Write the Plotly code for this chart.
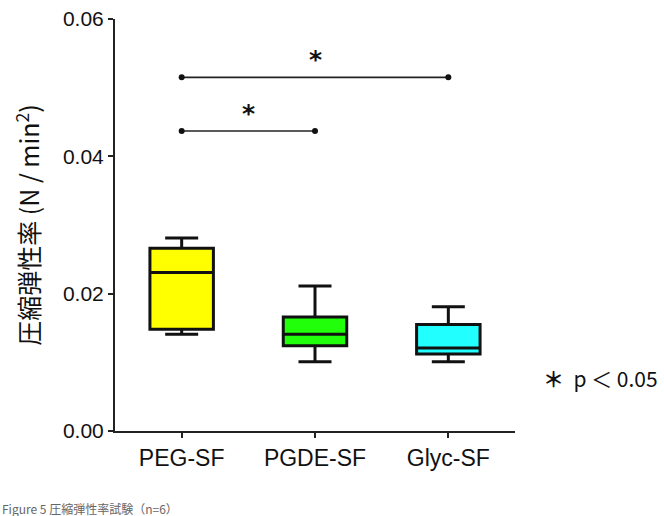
import plotly.graph_objects as go

# ---- data ----
groups = ["PEG-SF", "PGDE-SF", "Glyc-SF"]
lower_whisker = [0.0141, 0.0101, 0.0101]
q1 = [0.0148, 0.0124, 0.0112]
median = [0.0231, 0.0141, 0.0121]
q3 = [0.0266, 0.0166, 0.0155]
upper_whisker = [0.0281, 0.0211, 0.0181]
box_colors = ["#FFFF00", "#22FF0A", "#22FFFF"]

sig_pairs = [(0, 1), (0, 2)]
sig_levels = [0.0437, 0.0515]
sig_labels = ["*", "*"]

y_ticks = [0.0, 0.02, 0.04, 0.06]

fig = go.Figure()
for i, g in enumerate(groups):
    fig.add_trace(go.Box(
        x=[g], q1=[q1[i]], median=[median[i]], q3=[q3[i]],
        lowerfence=[lower_whisker[i]], upperfence=[upper_whisker[i]],
        fillcolor=box_colors[i],
        line=dict(color="#111111", width=3),
        whiskerwidth=0.52,
        boxpoints=False,
        showlegend=False,
        hoverinfo="skip",
    ))

for (a, b), lvl, lab in zip(sig_pairs, sig_levels, sig_labels):
    fig.add_trace(go.Scatter(
        x=[groups[a], groups[b]], y=[lvl, lvl],
        mode="lines+markers",
        line=dict(color="#222222", width=1.6),
        marker=dict(color="#111111", size=6),
        showlegend=False, hoverinfo="skip",
    ))
    fig.add_annotation(
        x=(a + b) / 2, y=lvl, xref="x", yref="y",
        text="<b>" + lab + "</b>", showarrow=False, yanchor="bottom", yshift=1,
        font=dict(family="DejaVu Sans", size=25, color="#111111"),
    )

fig.add_annotation(
    x=1.065, y=0.0077, xref="paper", yref="y", xanchor="left",
    text="<b>＊</b>  p ＜ 0.05", showarrow=False,
    font=dict(family="Noto Sans CJK JP", size=21, color="#111111"),
)

fig.add_annotation(
    x=-115/400, y=-0.163, xref="paper", yref="paper", xanchor="left", yanchor="top",
    text="Figure 5 圧縮弾性率試験（n=6）", showarrow=False,
    font=dict(family="Noto Sans CJK JP", size=12, color="#666666"),
)

fig.update_layout(
    width=664, height=516,
    margin=dict(l=115, r=149, t=19, b=85, autoexpand=False),
    paper_bgcolor="white", plot_bgcolor="white",
    boxgap=0.32,
    font=dict(family="Liberation Sans", color="#111111"),
    xaxis=dict(
        range=[-0.5, 2.5], showline=True, linecolor="#222222", linewidth=2,
        ticks="outside", ticklen=5, tickwidth=1.5, tickcolor="#222222",
        showgrid=False, zeroline=False, automargin=False,
        tickfont=dict(family="Liberation Sans", size=23, color="#111111"),
    ),
    yaxis=dict(
        range=[0, 0.06], showline=True, linecolor="#222222", linewidth=2,
        ticks="outside", ticklen=5, tickwidth=1.5, tickcolor="#222222",
        tickvals=y_ticks, tickformat=".2f",
        showgrid=False, zeroline=False, automargin=False,
        tickfont=dict(family="Liberation Sans", size=21, color="#111111"),
        title=dict(text="圧縮弾性率 (N / min<sup>2</sup>)", standoff=16,
                   font=dict(family="Noto Sans CJK JP", size=25, color="#111111")),
    ),
)

fig.write_html("out.html")
